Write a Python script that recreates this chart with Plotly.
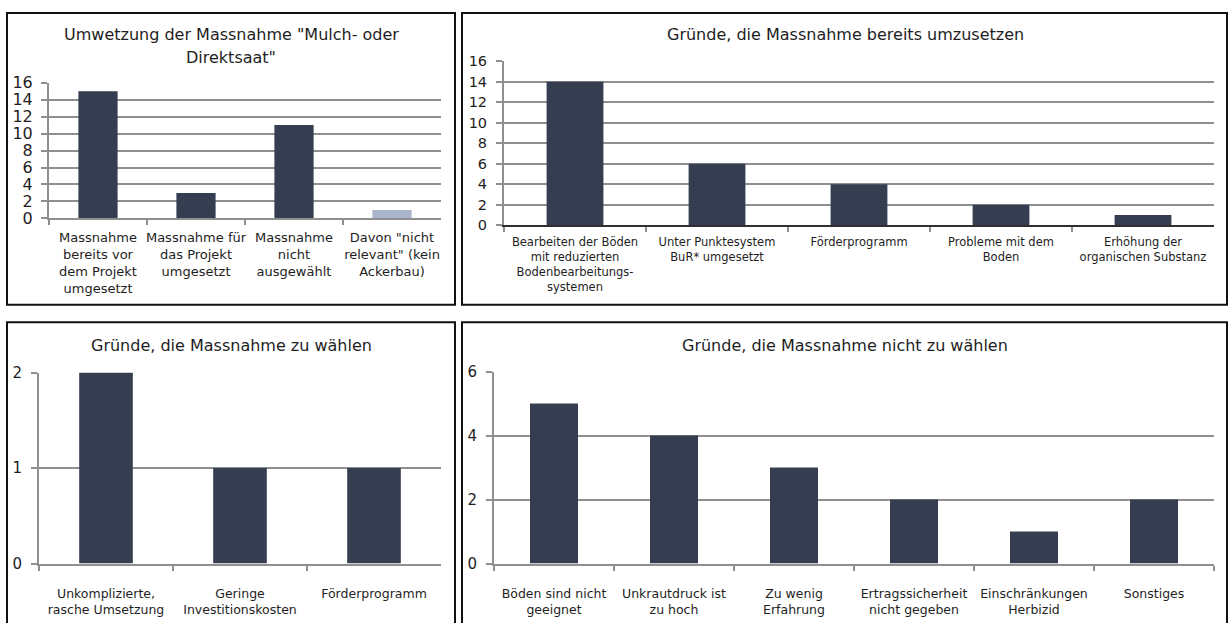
import plotly.graph_objects as go

W, H = 1230, 623

# ---- data ----
umsetzung_cats = [
    "Massnahme<br>bereits vor<br>dem Projekt<br>umgesetzt",
    "Massnahme für<br>das Projekt<br>umgesetzt",
    "Massnahme<br>nicht<br>ausgewählt",
    "Davon \"nicht<br>relevant\" (kein<br>Ackerbau)",
]
umsetzung_vals = [15, 3, 11, 1]

bereits_cats = [
    "Bearbeiten der Böden<br>mit reduzierten<br>Bodenbearbeitungs-<br>systemen",
    "Unter Punktesystem<br>BuR* umgesetzt",
    "Förderprogramm",
    "Probleme mit dem<br>Boden",
    "Erhöhung der<br>organischen Substanz",
]
bereits_vals = [14, 6, 4, 2, 1]

waehlen_cats = [
    "Unkomplizierte,<br>rasche Umsetzung",
    "Geringe<br>Investitionskosten",
    "Förderprogramm",
]
waehlen_vals = [2, 1, 1]

nicht_cats = [
    "Böden sind nicht<br>geeignet",
    "Unkrautdruck ist<br>zu hoch",
    "Zu wenig<br>Erfahrung",
    "Ertragssicherheit<br>nicht gegeben",
    "Einschränkungen<br>Herbizid",
    "Sonstiges",
]
nicht_vals = [5, 4, 3, 2, 1, 2]

DARK = "#343e50"
LIGHT = "#a9b5cc"
GRID = "#8f8f8f"
TXT = "#1e1e1e"
FONT = "DejaVu Sans"


def px_x(p):
    return p / W


def px_y(p):
    return 1 - p / H


fig = go.Figure()

# (cats, vals, colors, xref, yref, x-domain px, y-domain px (top, bottom), ymax, dtick,
#  y tick font, x label font, x line colour, x label standoff, y label standoff)
panels = [
    (umsetzung_cats, umsetzung_vals, [DARK, DARK, DARK, LIGHT], "x", "y", (49, 441), (76, 216), 16, 2, 16, 13, GRID, 6, 5),
    (bereits_cats, bereits_vals, [DARK] * 5, "x2", "y2", (504, 1214), (54, 223), 16, 2, 14.5, 11.5, "#303030", 5, 6),
    (waehlen_cats, waehlen_vals, [DARK] * 3, "x3", "y3", (39, 441), (375, 572), 2, 1, 15, 12.5, GRID, 17, 6),
    (nicht_cats, nicht_vals, [DARK] * 6, "x4", "y4", (494, 1214), (374, 572), 6, 2, 15, 12.5, GRID, 17, 6),
]

layout_axes = {}
for i, (cats, vals, cols, xr, yr, xd, yd, ymax, dt, tfs, lfs, xline, xso, yso) in enumerate(panels):
    fig.add_trace(go.Bar(
        x=cats, y=vals, marker=dict(color=cols, line=dict(width=0)),
        width=0.4, xaxis=xr, yaxis=yr, showlegend=False, hoverinfo="skip",
    ))
    n = "" if i == 0 else str(i + 1)
    layout_axes["xaxis" + n] = dict(
        domain=[px_x(xd[0]), px_x(xd[1])], anchor=yr,
        type="category", tickson="boundaries", ticks="outside", ticklen=5,
        tickcolor=GRID, tickwidth=1.5,
        showline=True, linecolor=xline, linewidth=2, showgrid=False,
        tickangle=0, tickfont=dict(family=FONT, size=lfs, color=TXT),
        ticklabelstandoff=xso,
        fixedrange=True,
    )
    layout_axes["yaxis" + n] = dict(
        domain=[px_y(yd[1]), px_y(yd[0])], anchor=xr,
        range=[0, ymax], dtick=dt, tick0=0,
        showgrid=True, gridcolor=GRID, gridwidth=2,
        showline=True, linecolor=GRID, linewidth=2,
        ticks="outside", ticklen=6, tickcolor=GRID, tickwidth=1.5,
        tickfont=dict(family=FONT, size=tfs, color=TXT),
        ticklabelstandoff=yso,
        zeroline=False, fixedrange=True,
    )

fig.update_layout(**layout_axes)

# panel frames
frames = [(7, 4, 455, 305), (462, 4, 1227, 305), (7, 323, 455, 640), (462, 323, 1227, 640)]
shapes = []
for x0, y0, x1, y1 in frames:
    shapes.append(dict(type="rect", xref="paper", yref="paper",
                       x0=px_x(x0), x1=px_x(x1), y0=px_y(y1), y1=px_y(y0),
                       line=dict(color="#111111", width=2), layer="above"))

# panel titles
titles = [
    ("Umwetzung der Massnahme \"Mulch- oder", 231, 26),
    ("Direktsaat\"", 231, 50),
    ("Gründe, die Massnahme bereits umzusetzen", 845, 26),
    ("Gründe, die Massnahme zu wählen", 231, 347),
    ("Gründe, die Massnahme nicht zu wählen", 845, 347),
]
annotations = [
    dict(text=t, x=px_x(cx), y=px_y(cy), xref="paper", yref="paper",
         xanchor="center", yanchor="middle", showarrow=False,
         font=dict(family=FONT, size=16, color=TXT))
    for t, cx, cy in titles
]

fig.update_layout(
    width=W, height=H,
    margin=dict(l=0, r=0, t=0, b=0),
    paper_bgcolor="white", plot_bgcolor="white",
    shapes=shapes, annotations=annotations,
    bargap=0.6,
)

fig.write_html("out.html", config={"displayModeBar": False})
